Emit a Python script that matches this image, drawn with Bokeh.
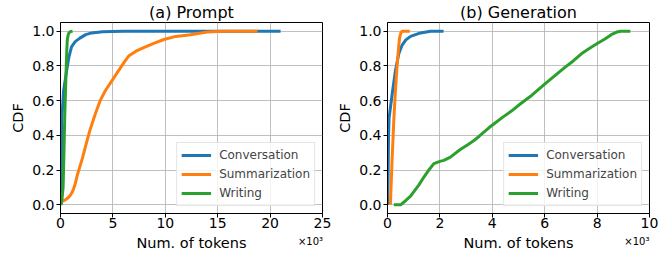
from bokeh.plotting import figure
from bokeh.layouts import row
from bokeh.models import FixedTicker, Legend, LegendItem, LinearAxis, Range1d
from bokeh.embed import file_html
from bokeh.resources import INLINE

# ---- data (tokens, CDF) ----
prompt_conv_x = [0, 100, 100, 300, 580, 800, 1050, 1400, 1850, 2400, 2980, 4000, 6000, 21000]
prompt_conv_y = [0.0, 0.01, 0.47, 0.66, 0.77, 0.85, 0.91, 0.94, 0.96, 0.98, 0.99, 0.997, 1.0, 1.0]
prompt_summ_x = [0, 200, 400, 600, 800, 1000, 1200, 1400, 1600, 1850, 2100, 2400, 2810, 3300, 3780, 4300, 4900, 5400, 6000, 6500, 7200, 7940, 8900, 9860, 11000, 12400, 14000, 15500, 18800]
prompt_summ_y = [0.02, 0.022, 0.027, 0.035, 0.045, 0.06, 0.084, 0.12, 0.17, 0.22, 0.27, 0.34, 0.43, 0.52, 0.60, 0.66, 0.714, 0.76, 0.815, 0.857, 0.885, 0.905, 0.93, 0.952, 0.97, 0.98, 0.995, 1.0, 1.0]
prompt_writ_x = [30, 150, 250, 330, 400, 480, 550, 600, 650, 720, 800, 950, 1150]
prompt_writ_y = [0.0, 0.04, 0.1, 0.3, 0.5, 0.66, 0.8, 0.89, 0.95, 0.975, 0.99, 0.998, 1.0]

gen_conv_x = [10, 40, 60, 180, 300, 430, 560, 700, 880, 1260, 1640, 2140]
gen_conv_y = [0.0, 0.4, 0.5, 0.64, 0.77, 0.87, 0.92, 0.95, 0.97, 0.99, 1.0, 1.0]
gen_summ_x = [110, 170, 240, 300, 370, 420, 460, 510, 560, 850]
gen_summ_y = [0.0, 0.24, 0.485, 0.65, 0.81, 0.9, 0.96, 0.99, 1.0, 1.0]
gen_writ_x = [240, 500, 700, 880, 1000, 1200, 1390, 1600, 1770, 2000, 2150, 2400, 2790, 3050, 3300, 3500, 3690, 3880, 4070, 4400, 4730, 5100, 5500, 6000, 6400, 6760, 7100, 7400, 7700, 8020, 8300, 8540, 8750, 8900, 9270]
gen_writ_y = [0.0, 0.0, 0.025, 0.05, 0.075, 0.115, 0.16, 0.205, 0.237, 0.25, 0.256, 0.275, 0.32, 0.345, 0.37, 0.395, 0.42, 0.445, 0.467, 0.505, 0.54, 0.585, 0.63, 0.695, 0.745, 0.79, 0.83, 0.87, 0.9, 0.93, 0.955, 0.98, 0.995, 1.0, 1.0]

series_names = ["Conversation", "Summarization", "Writing"]
colors = ["#1f77b4", "#ff7f0e", "#2ca02c"]

prompt_ticks = [0, 5000, 10000, 15000, 20000, 25000]
prompt_tick_labels = ["0", "5", "10", "15", "20", "25"]
gen_ticks = [0, 2000, 4000, 6000, 8000, 10000]
gen_tick_labels = ["0", "2", "4", "6", "8", "10"]
y_ticks = [0.0, 0.2, 0.4, 0.6, 0.8, 1.0]
y_tick_labels = ["0.0", "0.2", "0.4", "0.6", "0.8", "1.0"]
offset_text = "×10³"

FONT = "DejaVu Sans"


def style_axis(ax):
    ax.major_label_text_font = FONT
    ax.major_label_text_font_size = "14px"
    ax.major_label_text_color = "black"
    ax.axis_label_text_font = FONT
    ax.axis_label_text_font_size = "14.5px"
    ax.axis_label_text_font_style = "normal"
    ax.axis_label_text_color = "black"
    ax.major_tick_in = 0
    ax.major_tick_out = 4
    ax.minor_tick_in = 0
    ax.minor_tick_out = 0
    ax.axis_line_color = "black"
    ax.major_tick_line_color = "black"


def make_panel(title, xs, ys, xmax, ticks, tick_labels, width, left_border, right_border, offset_pos):
    p = figure(width=width, height=256, output_backend="svg", toolbar_location=None,
               x_range=Range1d(0, xmax), y_range=Range1d(-0.05, 1.05),
               min_border_left=left_border, min_border_right=right_border,
               min_border_top=21, min_border_bottom=43)
    p.title.text = title
    p.title.align = "center"
    p.title.text_font = FONT
    p.title.text_font_size = "16px"
    p.title.text_font_style = "normal"
    p.title.text_color = "black"
    p.title.standoff = 1
    p.outline_line_color = "black"
    p.outline_line_alpha = 1.0
    p.outline_line_width = 1

    xa = p.xaxis[0]
    ya = p.yaxis[0]
    style_axis(xa)
    style_axis(ya)
    xa.ticker = FixedTicker(ticks=ticks)
    xa.major_label_overrides = {t: l for t, l in zip(ticks, tick_labels)}
    ya.ticker = FixedTicker(ticks=y_ticks)
    ya.major_label_overrides = {t: l for t, l in zip(y_ticks, y_tick_labels)}
    xa.axis_label = None
    ya.axis_label = "CDF"
    xa.major_label_standoff = 0
    ya.major_label_standoff = 2
    ya.axis_label_standoff = 3

    # second axis row: holds the offset text "×10³" and the x-axis title on one line
    xb = LinearAxis()
    style_axis(xb)
    xb.ticker = FixedTicker(ticks=[offset_pos])
    xb.major_label_overrides = {offset_pos: offset_text}
    xb.major_label_text_font_size = "10px"
    xb.major_tick_out = 0
    xb.major_tick_line_color = None
    xb.axis_line_color = None
    xb.major_label_standoff = 5
    xb.axis_label = "Num. of tokens"
    xb.axis_label_standoff = -15
    p.add_layout(xb, "below")

    p.xgrid.grid_line_color = "#b0b0b0"
    p.ygrid.grid_line_color = "#b0b0b0"
    p.xgrid.grid_line_alpha = 0.8
    p.ygrid.grid_line_alpha = 0.8
    p.xgrid.ticker = FixedTicker(ticks=ticks)

    items = []
    for name, x, y, c in zip(series_names, xs, ys, colors):
        r = p.line(x, y, line_color=c, line_width=3, line_join="round")
        items.append(LegendItem(label=name, renderers=[r]))

    legend = Legend(items=items, location="bottom_right")
    legend.label_text_font = FONT
    legend.label_text_font_size = "12px"
    legend.glyph_width = 30
    legend.glyph_height = 16
    legend.label_height = 16
    legend.spacing = 3
    legend.padding = 4
    legend.margin = 7
    legend.label_standoff = 8
    legend.border_line_color = "#cccccc"
    legend.background_fill_alpha = 0.8
    p.add_layout(legend)
    return p


p1 = make_panel("(a) Prompt", [prompt_conv_x, prompt_summ_x, prompt_writ_x],
                [prompt_conv_y, prompt_summ_y, prompt_writ_y], 25000,
                prompt_ticks, prompt_tick_labels, 334, 60, 12, 23860)
p2 = make_panel("(b) Generation", [gen_conv_x, gen_summ_x, gen_writ_x],
                [gen_conv_y, gen_summ_y, gen_writ_y], 10000,
                gen_ticks, gen_tick_labels, 335, 53, 20, 9520)

layout = row(p1, p2)
open("out.html", "w").write(file_html(layout, INLINE))
